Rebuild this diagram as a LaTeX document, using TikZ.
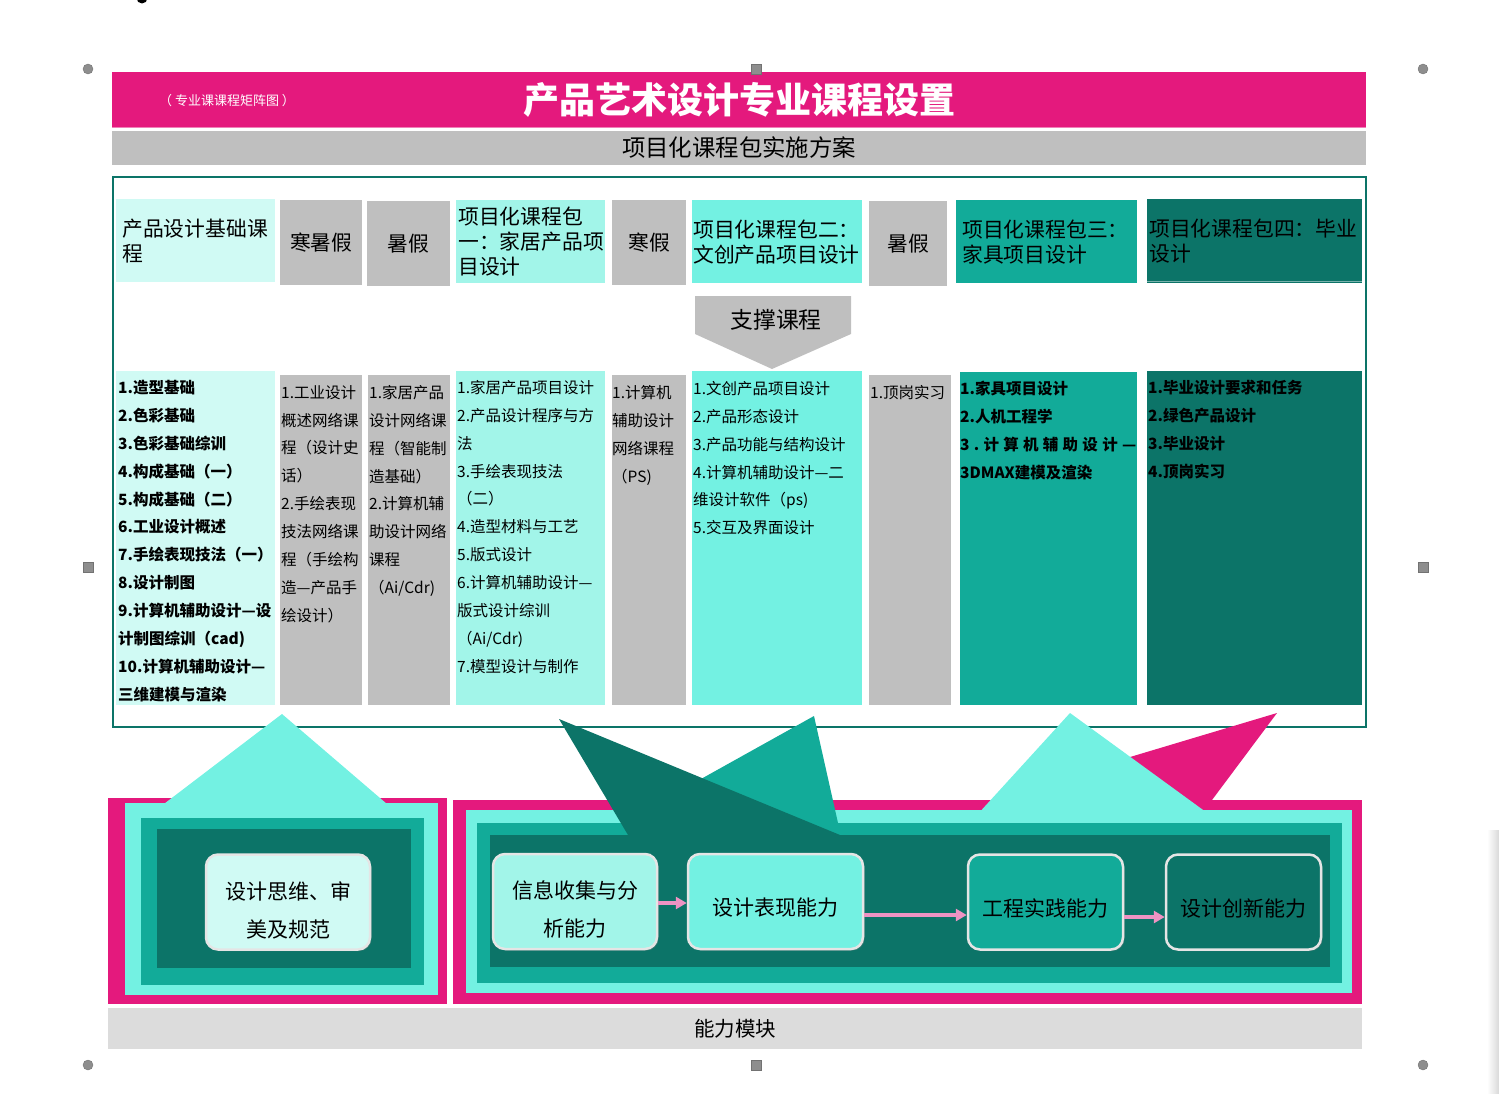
\documentclass[tikz,border=0pt]{standalone}
\usepackage{fontspec}
\setmainfont{Noto Sans CJK SC}
\usetikzlibrary{arrows.meta,shadows}
\definecolor{rose}{HTML}{E4197D}
\definecolor{pale}{HTML}{D0FAF4}
\definecolor{mint}{HTML}{A2F5E9}
\definecolor{aqua}{HTML}{73F1E2}
\definecolor{tealA}{HTML}{12AB99}
\definecolor{tealB}{HTML}{0C7468}
\definecolor{greyA}{HTML}{BFBFBF}
\definecolor{greyB}{HTML}{DCDCDC}
\definecolor{flowpink}{HTML}{EF93C3}
\definecolor{handle}{HTML}{8E8E8E}
\definecolor{pin}{HTML}{4A7BC8}
\begin{document}
\begin{tikzpicture}
    [x=1pt,y=-1pt,
     lbl/.style={inner sep=0pt,font=\fontsize{#1}{#1}\selectfont},
     hdr/.style={anchor=north west,inner ysep=0pt,align=left,minimum height=83pt,
       font=\fontsize{20.8}{25}\selectfont},
     hol/.style={anchor=north west,fill=greyA,inner sep=0pt,minimum height=85pt,
       font=\fontsize{20.8}{25}\selectfont},
     items/.style={anchor=north west,inner sep=0pt,align=left,
       font=\fontsize{15.5}{27.9}\selectfont},
     ability/.style={rounded corners=12pt,draw=white!90!black,line width=2.5pt,
       minimum height=95pt,inner sep=0pt,align=center,text height=30pt,
       font=\fontsize{21}{38}\selectfont,
       drop shadow={shadow xshift=1.5pt,shadow yshift=-1.5pt,opacity=.4}},
     twoline/.style={text height=72pt},
     flow/.style={draw=flowpink,line width=4pt,-{Triangle[length=11pt,width=12pt]}},
     hdot/.style={circle,fill=handle,draw=handle!80!black,minimum size=10pt,inner sep=0pt},
     hsq/.style={fill=handle,draw=handle!80!black,minimum size=10pt,inner sep=0pt}]
    \useasboundingbox (0,0) rectangle (1499,1094);
    \fill[pin] (142,-2) circle[radius=5.5pt];
    \shade[left color=white,right color=black!15] (1487,830) rectangle (1499,1094);

    \node[fill=rose,minimum width=1254pt,minimum height=56pt,inner sep=0pt,text=white,
      font=\fontsize{36}{36}\selectfont\bfseries] (title) at (739,100) {产品艺术设计专业课程设置};
    \draw[rose!55!white,line width=1pt] ([yshift=1pt]title.south west) -- ([yshift=1pt]title.south east);
    \node[lbl=13,text=white] (tag) at (227,101) {（ 专业课课程矩阵图 ）};
    \node[fill=greyA,minimum width=1254pt,minimum height=34pt,inner sep=0pt,
      font=\fontsize{23.4}{23.4}\selectfont] (plan) at (739,148) {项目化课程包实施方案};
    \draw[tealB,line width=2pt] (113,177) rectangle (1366,727);

    \node[hdr,fill=pale,minimum width=159pt,text width=147pt,inner xsep=6pt] (base) at (116,199) {产品设计基础课\\程};
    \node[hol,minimum width=82pt] (hol1) at (280,200) {寒暑假};
    \node[hol,minimum width=83pt] (hol2) at (367,201) {暑假};
    \node[hdr,fill=mint,minimum width=149pt,text width=145pt,inner xsep=2pt] (pack1) at (456,200) {项目化课程包\\一：家居产品项\\目设计};
    \node[hol,minimum width=74pt] (hol3) at (612,200) {寒假};
    \node[hdr,fill=aqua,minimum width=170pt,text width=168pt,inner xsep=1pt] (pack2) at (692,200) {项目化课程包二：\\文创产品项目设计};
    \node[hol,minimum width=78pt] (hol4) at (869,201) {暑假};
    \node[hdr,fill=tealA,minimum width=181pt,text width=169pt,inner xsep=6pt] (pack3) at (956,200) {项目化课程包三：\\家具项目设计};
    \node[hdr,fill=tealB,minimum width=215pt,text width=211pt,inner xsep=2pt,minimum height=84pt] (pack4) at (1147,199) {项目化课程包四：毕业\\设计};
    \draw[tealB!55!white,line width=1.5pt] ([yshift=2pt]pack4.south west) -- ([yshift=2pt]pack4.south east);

    \fill[greyA] (695,296) -- (851,296) -- (851,334) -- (772,369) -- (695,334) -- cycle;
    \node[lbl=22.8] (supp) at (776,320) {支撑课程};

    \foreach \a/\b/\c/\col in {116/371/275/pale,280/375/362/greyA,368/375/450/greyA,
      456/371/605/mint,612/375/686/greyA,692/371/862/aqua,869/375/951/greyA,
      960/372/1137/tealA,1147/371/1362/tealB}
      \fill[\col] (\a,\b) rectangle (\c,705);
    \node[items,font=\fontsize{15.5}{27.9}\selectfont\bfseries] (c1) at (118,380)
      {1.造型基础\\2.色彩基础\\3.色彩基础综训\\4.构成基础（一）\\5.构成基础（二）\\6.工业设计概述\\
       7.手绘表现技法（一）\\8.设计制图\\9.计算机辅助设计—设\\计制图综训（cad)\\10.计算机辅助设计—\\三维建模与渲染};
    \node[items] (c2) at (281,385)
      {1.工业设计\\概述网络课\\程（设计史\\话）\\2.手绘表现\\技法网络课\\程（手绘构\\造—产品手\\绘设计）};
    \node[items] (c3) at (369,385)
      {1.家居产品\\设计网络课\\程（智能制\\造基础）\\2.计算机辅\\助设计网络\\课程\\（Ai/Cdr)};
    \node[items] (c4) at (457,380)
      {1.家居产品项目设计\\2.产品设计程序与方\\法\\3.手绘表现技法\\（二）\\4.造型材料与工艺\\
       5.版式设计\\6.计算机辅助设计—\\版式设计综训\\（Ai/Cdr)\\7.模型设计与制作};
    \node[items] (c5) at (612,385) {1.计算机\\辅助设计\\网络课程\\（PS)};
    \node[items] (c6) at (693,381)
      {1.文创产品项目设计\\2.产品形态设计\\3.产品功能与结构设计\\4.计算机辅助设计—二\\维设计软件（ps)\\5.交互及界面设计};
    \node[items] (c7) at (870,385) {1.顶岗实习};
    \node[items,font=\fontsize{15.5}{27.9}\selectfont\bfseries] (c8) at (960,381)
      {1.家具项目设计\\2.人机工程学\\
       \makebox[176pt][s]{3\hfill .\hfill 计\hfill 算\hfill 机\hfill 辅\hfill 助\hfill 设\hfill 计\hfill —}\\3DMAX建模及渲染};
    \node[items,font=\fontsize{15.5}{27.9}\selectfont\bfseries] (c9) at (1148,380)
      {1.毕业设计要求和任务\\2.绿色产品设计\\3.毕业设计\\4.顶岗实习};

    \fill[rose] (108,798) rectangle (447,1004);
    \fill[aqua] (125,803) rectangle (438,995);
    \fill[tealA] (141,818) rectangle (424,985);
    \fill[tealB] (157,829) rectangle (411,968);
    \fill[rose] (453,800) rectangle (1362,1004);
    \fill[aqua] (466,810) rectangle (1352,993);
    \fill[tealA] (477,823) rectangle (1342,983);
    \fill[tealB] (490,835) rectangle (1330,967);
    \fill[rose] (1277,713) -- (1212,800) -- (1150,800) -- (1080,772) -- cycle;
    \fill[tealA] (814,716) -- (838,823) -- (622,823) -- cycle;
    \fill[tealB] (559,719) -- (840,835) -- (628,835) -- cycle;
    \fill[aqua] (282,714) -- (394,810) -- (156,810) -- cycle;
    \fill[aqua] (1070,713) -- (1210,815) -- (977,815) -- cycle;

    \node[ability,twoline,fill=pale,minimum width=164pt] (look) at (288,902) {设计思维、审\\美及规范};
    \node[ability,twoline,fill=mint,minimum width=164pt] (info) at (575,901.5) {信息收集与分\\析能力};
    \node[ability,fill=aqua,minimum width=175pt] (expr) at (775.5,901.5) {设计表现能力};
    \node[ability,fill=tealA,minimum width=155pt] (prac) at (1045.5,902) {工程实践能力};
    \node[ability,fill=tealB,minimum width=155pt] (inno) at (1243.5,902) {设计创新能力};
    \draw[flow] ([yshift=-1.5pt]info.east) -- ([yshift=-1.5pt]expr.west);
    \draw[flow] ([yshift=-13.5pt]expr.east) -- ([yshift=-13pt]prac.west);
    \draw[flow] ([yshift=-15pt]prac.east) -- ([yshift=-15pt]inno.west);
    \node[fill=greyB,minimum width=1254pt,minimum height=41pt,inner sep=0pt,
      font=\fontsize{20.5}{20.5}\selectfont] (mod) at (735,1028.5) {能力模块};

    \foreach \x/\y [count=\i] in {88/69,1423/69,88/1065,1423/1065}
      \node[hdot] (ring\i) at (\x,\y) {};
    \foreach \x/\y [count=\i] in {756/69,88/567,1423/567,756/1065}
      \node[hsq] (grip\i) at (\x,\y) {};
\end{tikzpicture}
\end{document}
